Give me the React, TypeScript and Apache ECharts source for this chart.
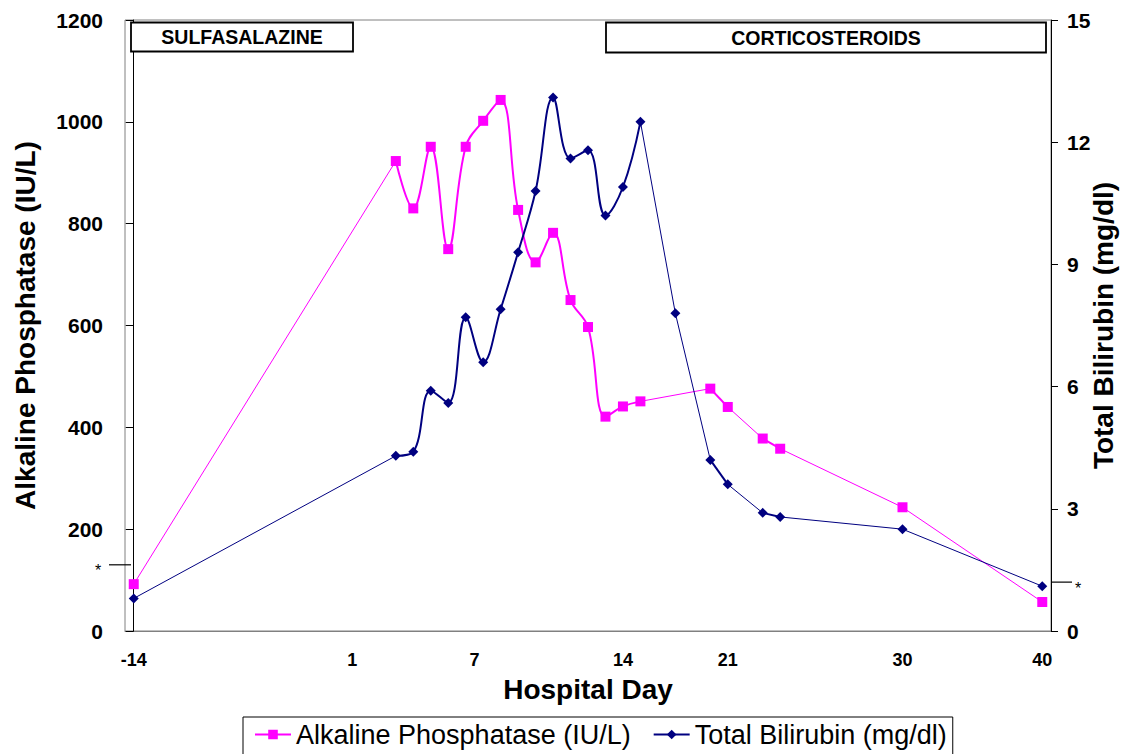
import React, { useEffect, useRef } from "react";
import * as echarts from "echarts";

// Slot positions along the day axis (equally spaced category slots)
const slots = [0, 15, 16, 17, 18, 19, 20, 21, 22, 23, 24, 25, 26, 27, 28, 29, 31, 33, 34, 36, 37, 44, 52];
const alkalinePhosphatase: (number | null)[] = [92, 923, 830, 951, 750, 951, 1002, 1043, 827, 724, 782, 650, 597, 421, 441, 451, null, 476, 440, 378, 358, 243, 57];
const totalBilirubin: (number | null)[] = [0.8, 4.3, 4.4, 5.9, 5.6, 7.7, 6.6, 7.9, 9.3, 10.8, 13.1, 11.6, 11.8, 10.2, 10.9, 12.5, 7.8, 4.2, 3.6, 2.9, 2.8, 2.5, 1.1];

const dayLabelSlots = [0, 12.5, 19.5, 28, 34, 44, 52];
const dayLabels = ["-14", "1", "7", "14", "21", "30", "40"];

const normalALP = 130;
const normalBili = 1.2;

const ALP_NAME = "Alkaline Phosphatase (IU/L)";
const BILI_NAME = "Total Bilirubin (mg/dl)";
const FONT = "'Liberation Sans', Arial, Helvetica, sans-serif";

function buildSeries(name: string, values: (number | null)[], color: string, symbol: string, yAxisIndex: number, zBase: number) {
  const pts: [number, number][] = [];
  slots.forEach((s, i) => {
    const v = values[i];
    if (v != null) pts.push([s, v]);
  });
  const out: any[] = [];
  let run: [number, number][] = [pts[0]];
  const runs: [number, number][][] = [];
  for (let i = 1; i < pts.length; i++) {
    if (pts[i][0] - pts[i - 1][0] === 1) run.push(pts[i]);
    else {
      runs.push(run);
      run = [pts[i]];
      out.push({
        type: "line",
        name: name + "-gap" + i,
        data: [pts[i - 1], pts[i]],
        yAxisIndex,
        symbol: "none",
        smooth: false,
        lineStyle: { width: 1, color },
        z: zBase,
        silent: true,
      });
    }
  }
  runs.push(run);
  runs.forEach((r, k) => {
    if (r.length > 1)
      out.push({
        type: "line",
        name: name + "-run" + k,
        data: r,
        yAxisIndex,
        symbol: "none",
        smooth: 0.4,
        lineStyle: { width: 2, color },
        z: zBase,
        silent: true,
      });
  });
  out.push({
    type: "line",
    name,
    data: pts,
    yAxisIndex,
    symbol,
    symbolSize: 10,
    itemStyle: { color },
    lineStyle: { width: 0, opacity: 0, color },
    z: zBase + 1,
  });
  return out;
}

export default function App() {
  const ref = useRef<HTMLDivElement>(null);
  useEffect(() => {
    document.body.style.margin = "0";
    const chart = echarts.init(ref.current!, undefined, { renderer: "svg" });
    const option: any = {
      animation: false,
      backgroundColor: "#fff",
      grid: {
        left: 125,
        right: 71,
        top: 20,
        bottom: 123,
        outerBoundsMode: "none",
        containLabel: false,
        show: true,
        borderColor: "#808080",
        borderWidth: 1,
      },
      legend: {
        left: 243,
        top: 717,
        itemWidth: 36,
        itemHeight: 12,
        itemGap: 22,
        padding: [4, 6, 12, 11],
        borderColor: "#000",
        borderWidth: 1,
        textStyle: { fontSize: 27, fontFamily: FONT, color: "#000" },
        data: [
          { name: ALP_NAME, lineStyle: { width: 2, opacity: 1, color: "#FF00FF" } },
          { name: BILI_NAME, lineStyle: { width: 2, opacity: 1, color: "#000080" } },
        ],
      },
      xAxis: {
        type: "value",
        min: -0.5,
        max: 52.5,
        name: "Hospital Day",
        nameLocation: "middle",
        nameGap: 44,
        nameMoveOverlap: false,
        nameTextStyle: { fontSize: 28, fontWeight: "bold", fontFamily: FONT, color: "#000" },
        axisLine: { show: true, lineStyle: { color: "#808080", width: 1 } },
        axisTick: { show: false },
        splitLine: { show: false },
        axisLabel: {
          customValues: dayLabelSlots,
          formatter: (v: number) => {
            const i = dayLabelSlots.indexOf(v);
            return i >= 0 ? dayLabels[i] : "";
          },
          margin: 20,
          fontSize: 18,
          fontWeight: "bold",
          fontFamily: FONT,
          color: "#000",
        },
      },
      yAxis: [
        {
          type: "value",
          min: 0,
          max: 1200,
          interval: 200,
          name: ALP_NAME,
          nameLocation: "middle",
          nameRotate: 90,
          nameGap: 86,
          nameMoveOverlap: false,
          nameTextStyle: { fontSize: 28, fontWeight: "bold", fontFamily: FONT, color: "#000" },
          axisLine: { show: true, lineStyle: { color: "#000", width: 1 } },
          axisTick: { show: true, length: 8, lineStyle: { color: "#000" } },
          splitLine: { show: false },
          axisLabel: {
            formatter: (v: number) => String(v),
            margin: 22,
            fontSize: 21,
            fontWeight: "bold",
            fontFamily: FONT,
            color: "#000",
          },
        },
        {
          type: "value",
          min: 0,
          max: 15,
          interval: 3,
          position: "right",
          name: BILI_NAME,
          nameLocation: "middle",
          nameRotate: 90,
          nameGap: 38,
          nameMoveOverlap: false,
          nameTextStyle: { fontSize: 28, fontWeight: "bold", fontFamily: FONT, color: "#000" },
          axisLine: { show: true, lineStyle: { color: "#000", width: 1 } },
          axisTick: { show: true, length: 7, lineStyle: { color: "#000" } },
          splitLine: { show: false },
          axisLabel: {
            formatter: (v: number) => String(v),
            margin: 16,
            fontSize: 21,
            fontWeight: "bold",
            fontFamily: FONT,
            color: "#000",
          },
        },
      ],
      series: [
        ...buildSeries(ALP_NAME, alkalinePhosphatase, "#FF00FF", "rect", 0, 2),
        ...buildSeries(BILI_NAME, totalBilirubin, "#000080", "diamond", 1, 4),
      ],
    };
    chart.setOption(option);

    const yL = chart.convertToPixel({ yAxisIndex: 0 }, normalALP) as number;
    const yR = chart.convertToPixel({ yAxisIndex: 1 }, normalBili) as number;
    const xL = chart.convertToPixel({ xAxisIndex: 0 }, -0.5) as number;
    const xR = chart.convertToPixel({ xAxisIndex: 0 }, 52.5) as number;

    const boxText = { fontSize: 19.5, fontWeight: "bold", fontFamily: FONT, fill: "#000", align: "center", verticalAlign: "middle" };
    chart.setOption({
      graphic: [
        { type: "line", shape: { x1: xL - 16, y1: yL, x2: xL + 6, y2: yL }, style: { stroke: "#000", lineWidth: 1.2 }, z: 10 },
        { type: "text", x: xL - 27, y: yL + 6, style: { text: "*", fontSize: 16, fontFamily: FONT, fill: "#000", align: "center", verticalAlign: "middle" }, z: 10 },
        { type: "line", shape: { x1: xR, y1: yR, x2: xR + 21, y2: yR }, style: { stroke: "#000", lineWidth: 1.2 }, z: 10 },
        { type: "text", x: xR + 27, y: yR + 6, style: { text: "*", fontSize: 16, fontFamily: FONT, fill: "#000", align: "center", verticalAlign: "middle" }, z: 10 },
        { type: "rect", shape: { x: 131, y: 22.5, width: 222, height: 29 }, style: { fill: "#fff", stroke: "#000", lineWidth: 1.8 }, z: 10 },
        { type: "text", x: 242, y: 37, style: { text: "SULFASALAZINE", ...boxText }, z: 11 },
        { type: "rect", shape: { x: 606, y: 22.5, width: 440, height: 30 }, style: { fill: "#fff", stroke: "#000", lineWidth: 1.8 }, z: 10 },
        { type: "text", x: 826, y: 37.5, style: { text: "CORTICOSTEROIDS", ...boxText }, z: 11 },
      ],
    });

    return () => chart.dispose();
  }, []);
  return <div ref={ref} style={{ width: 1122, height: 754, position: "absolute", left: 0, top: 0 }} />;
}
